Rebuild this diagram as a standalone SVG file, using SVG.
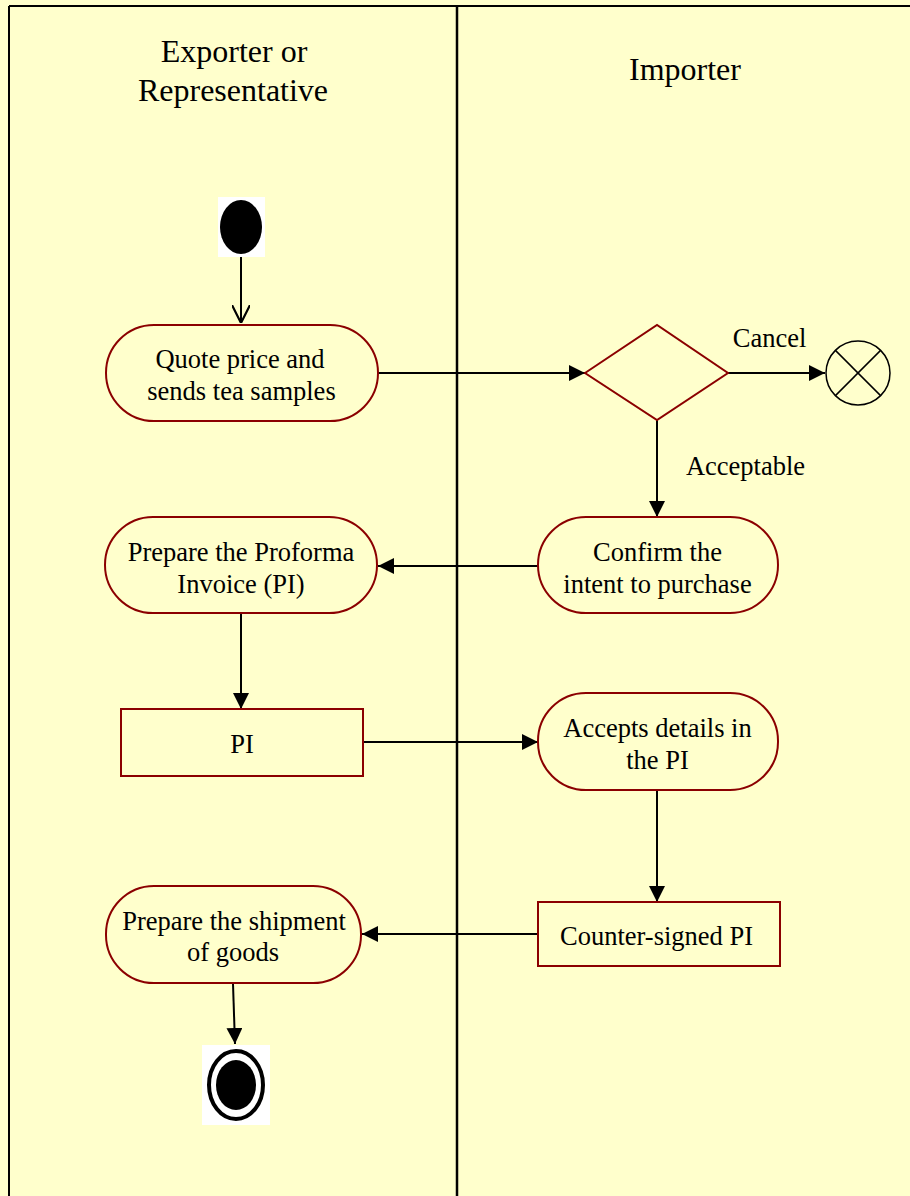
<svg xmlns="http://www.w3.org/2000/svg" width="910" height="1196" viewBox="0 0 910 1196">
<defs>
<style>
.border{stroke:#000;stroke-width:2;fill:none}
.hdr{font-family:"Liberation Serif","Times New Roman",serif;font-size:32px;fill:#000;text-anchor:middle}
.txt{font-family:"Liberation Serif","Times New Roman",serif;font-size:26.5px;fill:#000;text-anchor:middle}
.act{fill:#FFFFCC;stroke:#8B0000;stroke-width:2}
.edge{stroke:#000;stroke-width:2;fill:none}
</style>
<marker id="arr" viewBox="0 0 10 10" refX="10" refY="5" markerWidth="16" markerHeight="16" markerUnits="userSpaceOnUse" orient="auto">
<path d="M0,0 L10,5 L0,10 z" fill="#000"/>
</marker>
<marker id="open" viewBox="0 0 10 10" refX="10" refY="5" markerWidth="18" markerHeight="18" markerUnits="userSpaceOnUse" orient="auto">
<path d="M0,0 L10,5 L0,10" fill="none" stroke="#000" stroke-width="1.2"/>
</marker>
</defs>
<rect x="0" y="0" width="910" height="1196" fill="#FFFFCC"/>
<g id="lanes">
<line class="border" x1="9" y1="6" x2="910" y2="6"/>
<line class="border" x1="9" y1="6" x2="9" y2="1196"/>
<line x1="457" y1="6" x2="457" y2="1196" stroke="#000" stroke-width="2.5"/>
<text class="hdr" x="234" y="62">Exporter or</text>
<text class="hdr" x="233" y="101">Representative</text>
<text class="hdr" x="685" y="80">Importer</text>
</g>
<g id="connectors">
<line class="edge" x1="241" y1="257" x2="241" y2="323" marker-end="url(#open)"/>
<line class="edge" x1="378" y1="373" x2="585" y2="373" marker-end="url(#arr)"/>
<line class="edge" x1="728" y1="373" x2="825" y2="373" marker-end="url(#arr)"/>
<line class="edge" x1="657" y1="420" x2="657" y2="517" marker-end="url(#arr)"/>
<line class="edge" x1="538" y1="566" x2="378" y2="566" marker-end="url(#arr)"/>
<line class="edge" x1="241" y1="613" x2="241" y2="709" marker-end="url(#arr)"/>
<line class="edge" x1="363" y1="742" x2="538" y2="742" marker-end="url(#arr)"/>
<line class="edge" x1="657" y1="790" x2="657" y2="902" marker-end="url(#arr)"/>
<line class="edge" x1="538" y1="934" x2="362" y2="934" marker-end="url(#arr)"/>
<line class="edge" x1="233" y1="984" x2="235" y2="1044" marker-end="url(#arr)"/>
<text class="txt" x="769.5" y="347">Cancel</text>
<text class="txt" x="745.5" y="475">Acceptable</text>
</g>
<g id="start">
<rect x="218" y="197" width="47" height="60" fill="#fff"/>
<ellipse cx="241" cy="227" rx="21" ry="27" fill="#000"/>
</g>
<g id="quote">
<rect class="act" x="106" y="325" width="272" height="96" rx="48"/>
<text class="txt" x="240" y="368">Quote price and</text>
<text class="txt" x="241.5" y="400">sends tea samples</text>
</g>
<g id="decision">
<polygon class="act" points="585,373 657,325 728,373 657,420"/>
</g>
<g id="flowfinal">
<circle cx="858" cy="373" r="32" fill="#FFFFCC" stroke="#000" stroke-width="1.5"/>
<line x1="835.4" y1="350.4" x2="880.6" y2="395.6" stroke="#000" stroke-width="1.5"/>
<line x1="880.6" y1="350.4" x2="835.4" y2="395.6" stroke="#000" stroke-width="1.5"/>
</g>
<g id="confirm">
<rect class="act" x="538" y="517" width="240" height="96" rx="48"/>
<text class="txt" x="657.5" y="561">Confirm the</text>
<text class="txt" x="657.5" y="593">intent to purchase</text>
</g>
<g id="preparePI">
<rect class="act" x="105" y="517" width="272" height="96" rx="48"/>
<text class="txt" x="241" y="561">Prepare the Proforma</text>
<text class="txt" x="241" y="593">Invoice (PI)</text>
</g>
<g id="pi">
<rect class="act" x="121" y="709" width="242" height="67"/>
<text class="txt" x="242" y="753">PI</text>
</g>
<g id="accepts">
<rect class="act" x="538" y="693" width="240" height="97" rx="48"/>
<text class="txt" x="657.5" y="737">Accepts details in</text>
<text class="txt" x="657.5" y="769">the PI</text>
</g>
<g id="countersigned">
<rect class="act" x="538" y="902" width="242" height="64"/>
<text class="txt" x="656.5" y="945">Counter-signed PI</text>
</g>
<g id="shipment">
<rect class="act" x="106" y="886" width="255" height="97" rx="48"/>
<text class="txt" x="234" y="930">Prepare the shipment</text>
<text class="txt" x="233" y="961">of goods</text>
</g>
<g id="final">
<rect x="202" y="1045" width="68" height="80" fill="#fff"/>
<ellipse cx="236" cy="1085" rx="27" ry="34" fill="none" stroke="#000" stroke-width="4"/>
<ellipse cx="236" cy="1085" rx="20" ry="25" fill="#000"/>
</g>
</svg>
